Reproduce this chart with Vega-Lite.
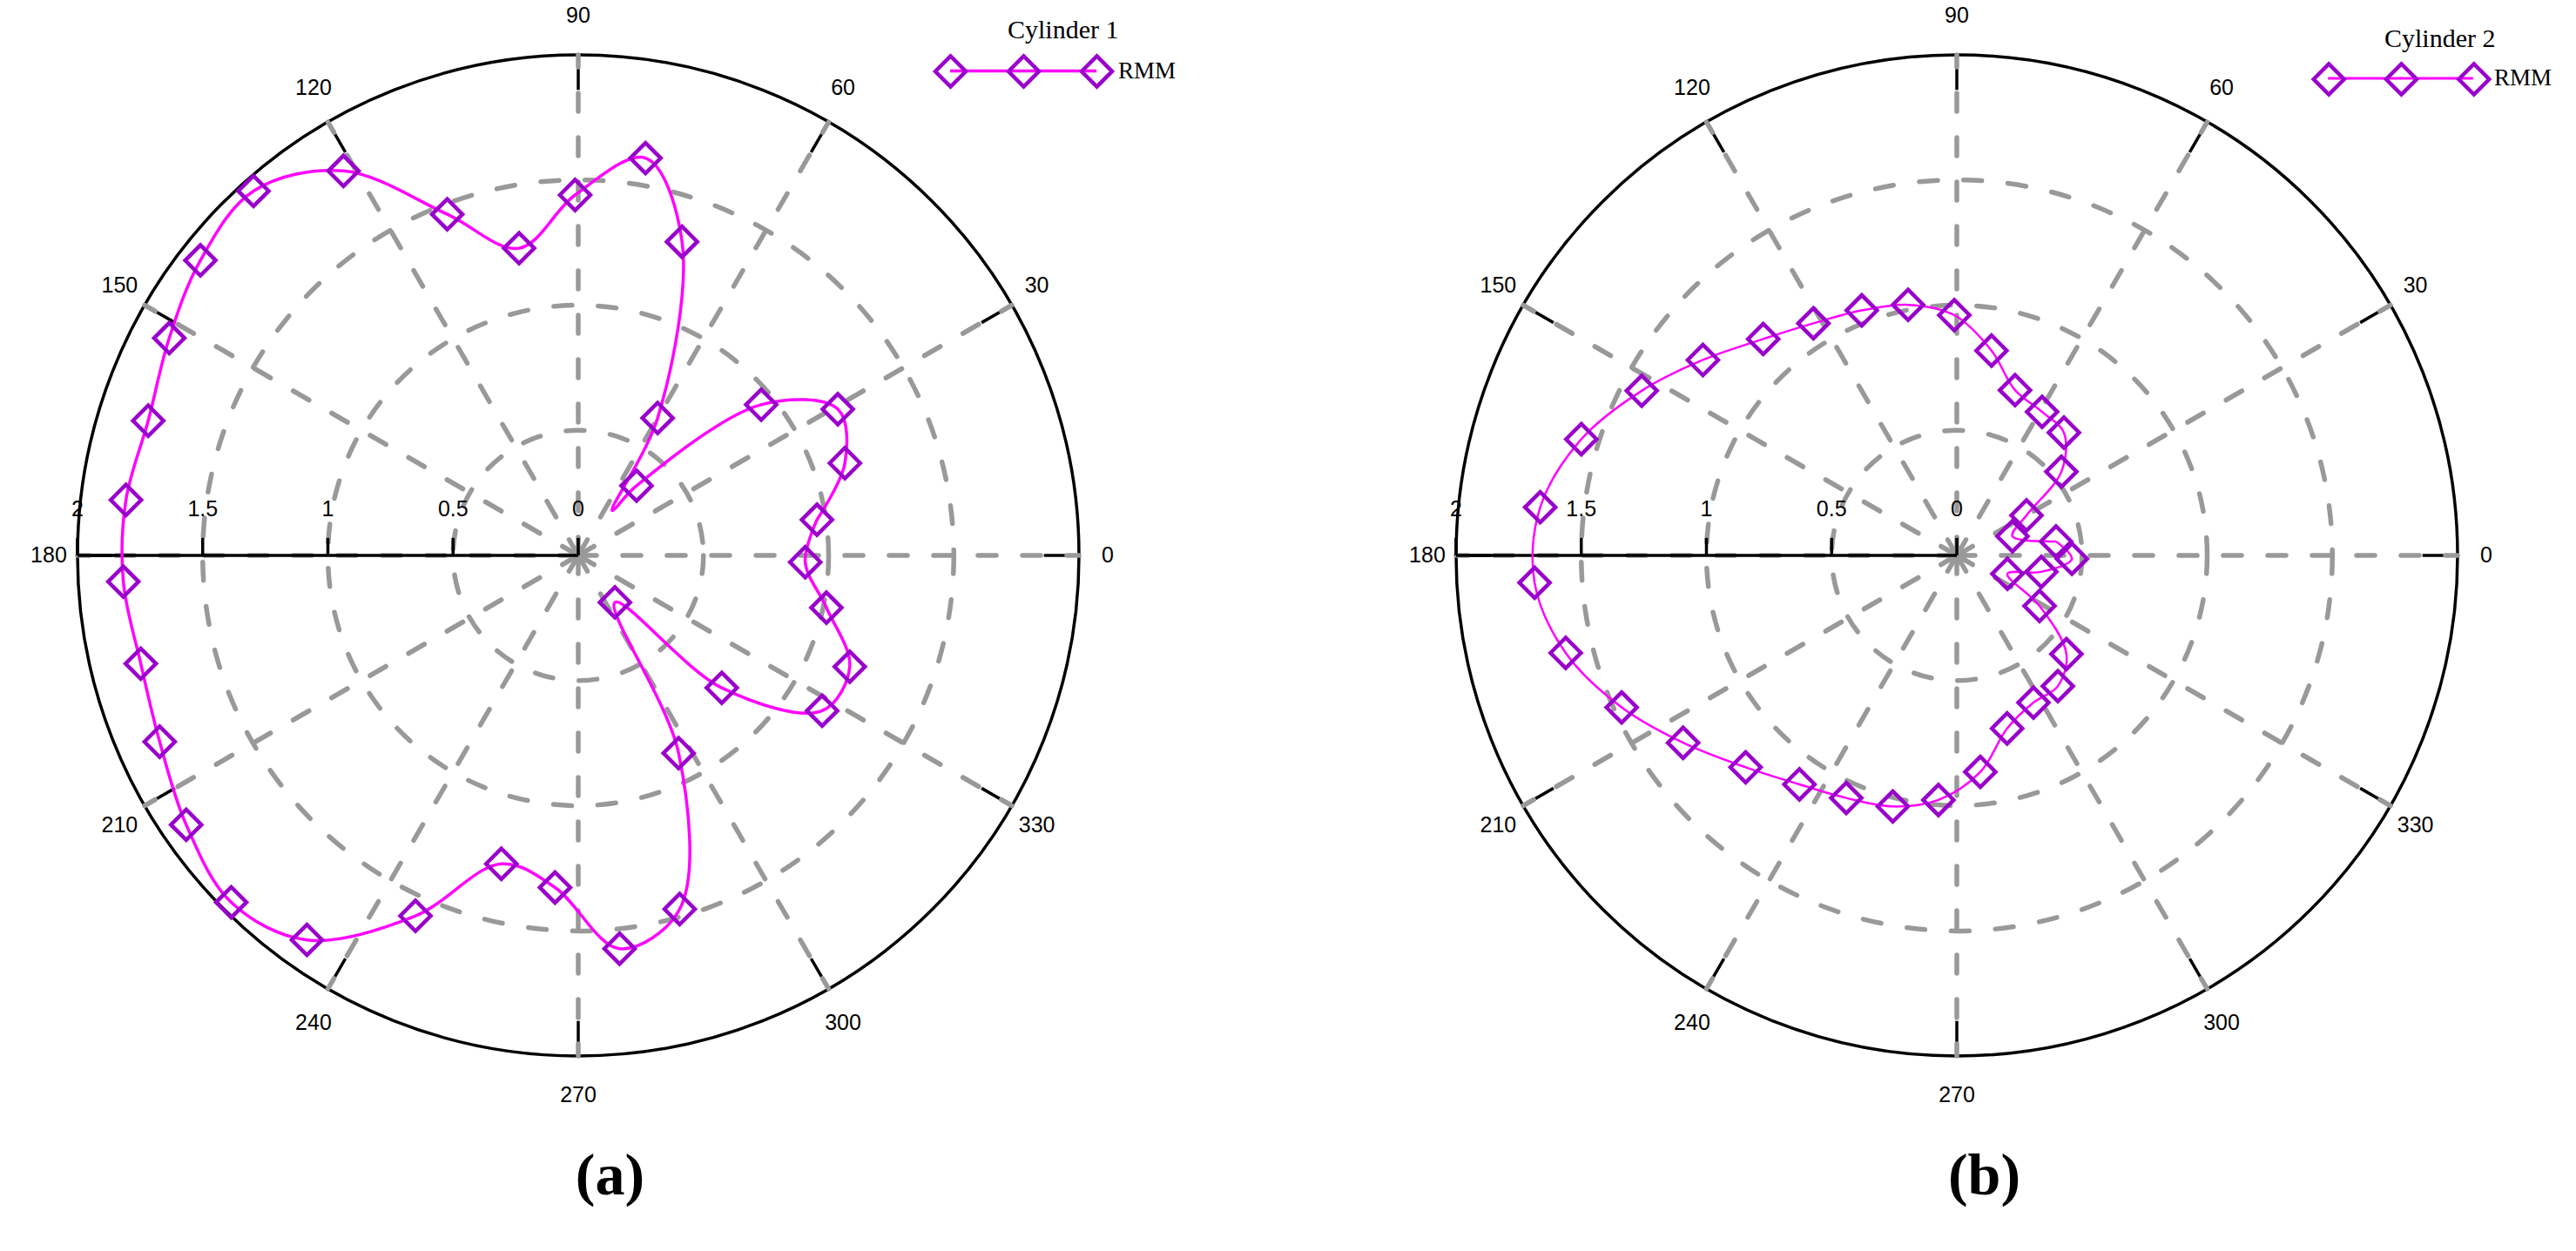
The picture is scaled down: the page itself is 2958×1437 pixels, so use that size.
{
  "$schema": "https://vega.github.io/schema/vega-lite/v6.json",
  "background": "white",
  "padding": 0,
  "autosize": {"type": "pad"},
  "spacing": 0,
  "bounds": "flush",
  "config": {"view": {"stroke": null}},
  "resolve": {
    "scale": {"color": "independent", "stroke": "independent", "size": "independent", "x": "independent", "y": "independent"},
    "legend": {"color": "independent", "stroke": "independent"}
  },
  "datasets": {
    "spokes": [{"a": 0}, {"a": 30}, {"a": 60}, {"a": 90}, {"a": 120}, {"a": 150}, {"a": 180}, {"a": 210}, {"a": 240}, {"a": 270}, {"a": 300}, {"a": 330}],
    "radial": [{"r": 0}, {"r": 0.5}, {"r": 1}, {"r": 1.5}, {"r": 2}],
    "rings": [{"r": 0.5}, {"r": 1}, {"r": 1.5}],
    "outer": [{"r": 2}],
    "a_mark": [
      {"a": 8.5, "r": 0.964, "s": "RMM"}, {"a": 19.1, "r": 1.127, "s": "RMM"}, {"a": 29.4, "r": 1.19, "s": "RMM"}, {"a": 39.5, "r": 0.947, "s": "RMM"},
      {"a": 50.1, "r": 0.363, "s": "RMM"}, {"a": 60, "r": 0.634, "s": "RMM"}, {"a": 71.7, "r": 1.32, "s": "RMM"}, {"a": 80.4, "r": 1.61, "s": "RMM"},
      {"a": 90.5, "r": 1.44, "s": "RMM"}, {"a": 100.9, "r": 1.25, "s": "RMM"}, {"a": 111, "r": 1.46, "s": "RMM"}, {"a": 121.4, "r": 1.8, "s": "RMM"},
      {"a": 131.7, "r": 1.95, "s": "RMM"}, {"a": 142, "r": 1.915, "s": "RMM"}, {"a": 152, "r": 1.85, "s": "RMM"}, {"a": 162.6, "r": 1.8, "s": "RMM"},
      {"a": 173, "r": 1.82, "s": "RMM"}, {"a": 183.3, "r": 1.82, "s": "RMM"}, {"a": 193.9, "r": 1.8, "s": "RMM"}, {"a": 204, "r": 1.83, "s": "RMM"},
      {"a": 214.5, "r": 1.9, "s": "RMM"}, {"a": 225, "r": 1.96, "s": "RMM"}, {"a": 234.8, "r": 1.88, "s": "RMM"}, {"a": 245.7, "r": 1.58, "s": "RMM"},
      {"a": 256, "r": 1.27, "s": "RMM"}, {"a": 266, "r": 1.33, "s": "RMM"}, {"a": 276, "r": 1.58, "s": "RMM"}, {"a": 286, "r": 1.47, "s": "RMM"},
      {"a": 296.9, "r": 0.886, "s": "RMM"}, {"a": 308, "r": 0.238, "s": "RMM"}, {"a": 317.3, "r": 0.78, "s": "RMM"}, {"a": 327.5, "r": 1.155, "s": "RMM"},
      {"a": 337.7, "r": 1.172, "s": "RMM"}, {"a": 348.1, "r": 1.013, "s": "RMM"}, {"a": 358.3, "r": 0.907, "s": "RMM"}
    ],
    "a_line": [
      {"a": 8.5, "r": 0.964, "s": "RMM"}, {"a": 19.1, "r": 1.127, "s": "RMM"}, {"a": 29.4, "r": 1.19, "s": "RMM"}, {"a": 39.5, "r": 0.947, "s": "RMM"},
      {"a": 50.1, "r": 0.363, "s": "RMM"}, {"a": 53, "r": 0.225, "s": "RMM"}, {"a": 60, "r": 0.634, "s": "RMM"}, {"a": 71.7, "r": 1.32, "s": "RMM"}, {"a": 80.4, "r": 1.61, "s": "RMM"},
      {"a": 90.5, "r": 1.44, "s": "RMM"}, {"a": 100.9, "r": 1.25, "s": "RMM"}, {"a": 111, "r": 1.46, "s": "RMM"}, {"a": 121.4, "r": 1.8, "s": "RMM"},
      {"a": 131.7, "r": 1.95, "s": "RMM"}, {"a": 142, "r": 1.915, "s": "RMM"}, {"a": 152, "r": 1.85, "s": "RMM"}, {"a": 162.6, "r": 1.8, "s": "RMM"},
      {"a": 173, "r": 1.82, "s": "RMM"}, {"a": 183.3, "r": 1.82, "s": "RMM"}, {"a": 193.9, "r": 1.8, "s": "RMM"}, {"a": 204, "r": 1.83, "s": "RMM"},
      {"a": 214.5, "r": 1.9, "s": "RMM"}, {"a": 225, "r": 1.96, "s": "RMM"}, {"a": 234.8, "r": 1.88, "s": "RMM"}, {"a": 245.7, "r": 1.58, "s": "RMM"},
      {"a": 256, "r": 1.27, "s": "RMM"}, {"a": 266, "r": 1.33, "s": "RMM"}, {"a": 276, "r": 1.58, "s": "RMM"}, {"a": 286, "r": 1.47, "s": "RMM"},
      {"a": 296.9, "r": 0.886, "s": "RMM"}, {"a": 308, "r": 0.238, "s": "RMM"}, {"a": 317.3, "r": 0.78, "s": "RMM"}, {"a": 327.5, "r": 1.155, "s": "RMM"},
      {"a": 337.7, "r": 1.172, "s": "RMM"}, {"a": 348.1, "r": 1.013, "s": "RMM"}, {"a": 358.3, "r": 0.907, "s": "RMM"}, {"a": 368.5, "r": 0.964, "s": "RMM"}
    ],
    "b_mark": [
      {"a": 8, "r": 0.4, "s": "RMM"}, {"a": 19, "r": 0.235, "s": "RMM"}, {"a": 29.9, "r": 0.321, "s": "RMM"}, {"a": 38.7, "r": 0.535, "s": "RMM"},
      {"a": 48.9, "r": 0.651, "s": "RMM"}, {"a": 59.3, "r": 0.667, "s": "RMM"}, {"a": 70.6, "r": 0.7, "s": "RMM"}, {"a": 80.4, "r": 0.83, "s": "RMM"},
      {"a": 90.6, "r": 0.96, "s": "RMM"}, {"a": 101, "r": 1.02, "s": "RMM"}, {"a": 111.2, "r": 1.05, "s": "RMM"}, {"a": 121.7, "r": 1.09, "s": "RMM"},
      {"a": 131.8, "r": 1.16, "s": "RMM"}, {"a": 142.4, "r": 1.28, "s": "RMM"}, {"a": 152.4, "r": 1.42, "s": "RMM"}, {"a": 162.8, "r": 1.57, "s": "RMM"},
      {"a": 173.4, "r": 1.675, "s": "RMM"}, {"a": 183.7, "r": 1.69, "s": "RMM"}, {"a": 194, "r": 1.61, "s": "RMM"}, {"a": 204.4, "r": 1.47, "s": "RMM"},
      {"a": 214.4, "r": 1.325, "s": "RMM"}, {"a": 225.1, "r": 1.195, "s": "RMM"}, {"a": 235.5, "r": 1.11, "s": "RMM"}, {"a": 245.5, "r": 1.065, "s": "RMM"},
      {"a": 255.7, "r": 1.035, "s": "RMM"}, {"a": 265.7, "r": 0.98, "s": "RMM"}, {"a": 276.2, "r": 0.87, "s": "RMM"}, {"a": 286.2, "r": 0.72, "s": "RMM"},
      {"a": 297.5, "r": 0.663, "s": "RMM"}, {"a": 307.7, "r": 0.66, "s": "RMM"}, {"a": 318, "r": 0.589, "s": "RMM"}, {"a": 328.6, "r": 0.387, "s": "RMM"},
      {"a": 340, "r": 0.215, "s": "RMM"}, {"a": 349, "r": 0.344, "s": "RMM"}, {"a": 358.3, "r": 0.46, "s": "RMM"}
    ],
    "b_line": [
      {"a": 8, "r": 0.4, "s": "RMM"}, {"a": 19, "r": 0.235, "s": "RMM"}, {"a": 29.9, "r": 0.321, "s": "RMM"}, {"a": 38.7, "r": 0.535, "s": "RMM"},
      {"a": 48.9, "r": 0.651, "s": "RMM"}, {"a": 59.3, "r": 0.667, "s": "RMM"}, {"a": 70.6, "r": 0.7, "s": "RMM"}, {"a": 80.4, "r": 0.83, "s": "RMM"},
      {"a": 90.6, "r": 0.96, "s": "RMM"}, {"a": 101, "r": 1.02, "s": "RMM"}, {"a": 111.2, "r": 1.05, "s": "RMM"}, {"a": 121.7, "r": 1.09, "s": "RMM"},
      {"a": 131.8, "r": 1.16, "s": "RMM"}, {"a": 142.4, "r": 1.28, "s": "RMM"}, {"a": 152.4, "r": 1.42, "s": "RMM"}, {"a": 162.8, "r": 1.57, "s": "RMM"},
      {"a": 173.4, "r": 1.675, "s": "RMM"}, {"a": 183.7, "r": 1.69, "s": "RMM"}, {"a": 194, "r": 1.61, "s": "RMM"}, {"a": 204.4, "r": 1.47, "s": "RMM"},
      {"a": 214.4, "r": 1.325, "s": "RMM"}, {"a": 225.1, "r": 1.195, "s": "RMM"}, {"a": 235.5, "r": 1.11, "s": "RMM"}, {"a": 245.5, "r": 1.065, "s": "RMM"},
      {"a": 255.7, "r": 1.035, "s": "RMM"}, {"a": 265.7, "r": 0.98, "s": "RMM"}, {"a": 276.2, "r": 0.87, "s": "RMM"}, {"a": 286.2, "r": 0.72, "s": "RMM"},
      {"a": 297.5, "r": 0.663, "s": "RMM"}, {"a": 307.7, "r": 0.66, "s": "RMM"}, {"a": 318, "r": 0.589, "s": "RMM"}, {"a": 328.6, "r": 0.387, "s": "RMM"},
      {"a": 340, "r": 0.215, "s": "RMM"}, {"a": 349, "r": 0.344, "s": "RMM"}, {"a": 358.3, "r": 0.46, "s": "RMM"}, {"a": 368, "r": 0.4, "s": "RMM"}
    ]
  },
  "hconcat": [
    {
      "width": 1479,
      "height": 1315,
      "title": {"text": "(a)", "orient": "bottom", "anchor": "middle", "offset": 3, "dx": -39, "font": "Liberation Serif", "fontSize": 68, "fontWeight": "bold", "color": "#000000"},
      "encoding": {
        "x": {"field": "x", "type": "quantitative", "scale": {"domain": [-2.30957, 2.83478], "nice": false, "zero": false}, "axis": null},
        "y": {"field": "y", "type": "quantitative", "scale": {"domain": [-2.35478, 2.21913], "nice": false, "zero": false}, "axis": null}
      },
      "layer": [
        {
          "data": {"name": "rings"},
          "transform": [{"calculate": "0", "as": "x"}, {"calculate": "0", "as": "y"}],
          "mark": {"type": "point", "shape": "circle", "filled": false, "stroke": "#999999", "strokeWidth": 5.5, "strokeDash": [21, 30], "strokeCap": "round", "opacity": 1},
          "encoding": {
            "size": {"field": "r", "type": "quantitative", "scale": {"type": "pow", "exponent": 2, "domain": [0, 2], "range": [0, 1322500]}, "legend": null}
          }
        },
        {
          "data": {"name": "outer"},
          "transform": [{"calculate": "0", "as": "x"}, {"calculate": "0", "as": "y"}],
          "mark": {"type": "point", "shape": "circle", "filled": false, "stroke": "#000000", "strokeWidth": 3.5, "opacity": 1},
          "encoding": {
            "size": {"field": "r", "type": "quantitative"}
          }
        },
        {
          "data": {"name": "spokes"},
          "transform": [
            {"calculate": "1.86*cos(datum.a*PI/180)", "as": "x"},
            {"calculate": "1.86*sin(datum.a*PI/180)", "as": "y"},
            {"calculate": "2*cos(datum.a*PI/180)", "as": "ex"},
            {"calculate": "2*sin(datum.a*PI/180)", "as": "ey"}
          ],
          "mark": {"type": "rule", "stroke": "#000000", "strokeWidth": 3.5},
          "encoding": {
            "x2": {"field": "ex"},
            "y2": {"field": "ey"}
          }
        },
        {
          "data": {"name": "spokes"},
          "transform": [
            {"calculate": "0", "as": "x"},
            {"calculate": "0", "as": "y"},
            {"calculate": "2*cos(datum.a*PI/180)", "as": "ex"},
            {"calculate": "2*sin(datum.a*PI/180)", "as": "ey"}
          ],
          "mark": {"type": "rule", "stroke": "#999999", "strokeWidth": 5.5, "strokeDash": [21, 30], "strokeCap": "round"},
          "encoding": {
            "x2": {"field": "ex"},
            "y2": {"field": "ey"}
          }
        },
        {
          "data": {"name": "outer"},
          "transform": [{"calculate": "-datum.r", "as": "x"}, {"calculate": "0", "as": "y"}, {"calculate": "0", "as": "ex"}],
          "mark": {"type": "rule", "stroke": "#000000", "strokeWidth": 3.5},
          "encoding": {
            "x2": {"field": "ex"}
          }
        },
        {
          "data": {"name": "radial"},
          "transform": [{"calculate": "-datum.r", "as": "x"}, {"calculate": "0", "as": "y"}, {"calculate": "0.07", "as": "ey"}],
          "mark": {"type": "rule", "stroke": "#000000", "strokeWidth": 3.5},
          "encoding": {
            "y2": {"field": "ey"}
          }
        },
        {
          "data": {"name": "radial"},
          "transform": [{"calculate": "-datum.r", "as": "x"}, {"calculate": "0", "as": "y"}],
          "mark": {"type": "text", "font": "Liberation Sans", "fontSize": 25, "color": "#000000", "align": "center", "baseline": "middle", "dy": -53},
          "encoding": {
            "text": {"field": "r", "type": "quantitative"}
          }
        },
        {
          "data": {"name": "spokes"},
          "transform": [
            {"calculate": "2.115*cos(datum.a*PI/180)", "as": "x"},
            {"calculate": "2.155*sin(datum.a*PI/180)", "as": "y"}
          ],
          "mark": {"type": "text", "font": "Liberation Sans", "fontSize": 25, "color": "#000000", "align": "center", "baseline": "middle"},
          "encoding": {
            "text": {"field": "a", "type": "quantitative"}
          }
        },
        {
          "data": {"name": "a_line"},
          "transform": [
            {"calculate": "datum.r*cos(datum.a*PI/180)", "as": "x"},
            {"calculate": "datum.r*sin(datum.a*PI/180)", "as": "y"}
          ],
          "mark": {"type": "line", "interpolate": "catmull-rom", "strokeWidth": 3.5},
          "encoding": {
            "order": {"field": "a", "type": "quantitative"},
            "color": {
              "field": "s", "type": "nominal", "scale": {"range": ["#FF00FF"]},
              "legend": {"title": "Cylinder 1", "orient": "none", "legendX": 1157, "legendY": 20, "padding": 0,
                "symbolType": "M-4.886,0L4.714,0", "symbolSize": 1225, "symbolStrokeWidth": 3.5,
                "titleFont": "Liberation Serif", "titleFontSize": 30, "titleFontWeight": "normal", "titleColor": "#000000", "titlePadding": 12,
                "labelFont": "Liberation Serif", "labelFontSize": 27, "labelColor": "#000000", "labelOffset": 88}
            }
          }
        },
        {
          "data": {"name": "a_mark"},
          "transform": [
            {"calculate": "datum.r*cos(datum.a*PI/180)", "as": "x"},
            {"calculate": "datum.r*sin(datum.a*PI/180)", "as": "y"}
          ],
          "mark": {"type": "point", "shape": "diamond", "filled": false, "strokeWidth": 4.5, "size": 1225, "opacity": 1},
          "encoding": {
            "stroke": {
              "field": "s", "type": "nominal", "scale": {"range": ["#9900CC"]},
              "legend": {"title": null, "orient": "none", "legendX": 1071.5, "legendY": 62, "padding": 0,
                "symbolType": "M-1,0L0,-1L1,0L0,1Z M3.8,0L4.8,-1L5.8,0L4.8,1Z M8.6,0L9.6,-1L10.6,0L9.6,1Z", "symbolSize": 1225, "symbolStrokeWidth": 4.5, "symbolFillColor": "transparent",
                "labelExpr": "''", "labelFontSize": 27}
            }
          }
        }
      ]
    },
    {
      "width": 1479,
      "height": 1315,
      "title": {"text": "(b)", "orient": "bottom", "anchor": "middle", "offset": 3, "dx": 60, "font": "Liberation Serif", "fontSize": 68, "fontWeight": "bold", "color": "#000000"},
      "encoding": {
        "x": {"field": "x", "type": "quantitative", "scale": {"domain": [-2.6713, 2.47304], "nice": false, "zero": false}, "axis": null},
        "y": {"field": "y", "type": "quantitative", "scale": {"domain": [-2.35478, 2.21913], "nice": false, "zero": false}, "axis": null}
      },
      "layer": [
        {
          "data": {"name": "rings"},
          "transform": [{"calculate": "0", "as": "x"}, {"calculate": "0", "as": "y"}],
          "mark": {"type": "point", "shape": "circle", "filled": false, "stroke": "#999999", "strokeWidth": 5.5, "strokeDash": [21, 30], "strokeCap": "round", "opacity": 1},
          "encoding": {
            "size": {"field": "r", "type": "quantitative", "scale": {"type": "pow", "exponent": 2, "domain": [0, 2], "range": [0, 1322500]}, "legend": null}
          }
        },
        {
          "data": {"name": "outer"},
          "transform": [{"calculate": "0", "as": "x"}, {"calculate": "0", "as": "y"}],
          "mark": {"type": "point", "shape": "circle", "filled": false, "stroke": "#000000", "strokeWidth": 3.5, "opacity": 1},
          "encoding": {
            "size": {"field": "r", "type": "quantitative"}
          }
        },
        {
          "data": {"name": "spokes"},
          "transform": [
            {"calculate": "1.86*cos(datum.a*PI/180)", "as": "x"},
            {"calculate": "1.86*sin(datum.a*PI/180)", "as": "y"},
            {"calculate": "2*cos(datum.a*PI/180)", "as": "ex"},
            {"calculate": "2*sin(datum.a*PI/180)", "as": "ey"}
          ],
          "mark": {"type": "rule", "stroke": "#000000", "strokeWidth": 3.5},
          "encoding": {
            "x2": {"field": "ex"},
            "y2": {"field": "ey"}
          }
        },
        {
          "data": {"name": "spokes"},
          "transform": [
            {"calculate": "0", "as": "x"},
            {"calculate": "0", "as": "y"},
            {"calculate": "2*cos(datum.a*PI/180)", "as": "ex"},
            {"calculate": "2*sin(datum.a*PI/180)", "as": "ey"}
          ],
          "mark": {"type": "rule", "stroke": "#999999", "strokeWidth": 5.5, "strokeDash": [21, 30], "strokeCap": "round"},
          "encoding": {
            "x2": {"field": "ex"},
            "y2": {"field": "ey"}
          }
        },
        {
          "data": {"name": "outer"},
          "transform": [{"calculate": "-datum.r", "as": "x"}, {"calculate": "0", "as": "y"}, {"calculate": "0", "as": "ex"}],
          "mark": {"type": "rule", "stroke": "#000000", "strokeWidth": 3.5},
          "encoding": {
            "x2": {"field": "ex"}
          }
        },
        {
          "data": {"name": "radial"},
          "transform": [{"calculate": "-datum.r", "as": "x"}, {"calculate": "0", "as": "y"}, {"calculate": "0.07", "as": "ey"}],
          "mark": {"type": "rule", "stroke": "#000000", "strokeWidth": 3.5},
          "encoding": {
            "y2": {"field": "ey"}
          }
        },
        {
          "data": {"name": "radial"},
          "transform": [{"calculate": "-datum.r", "as": "x"}, {"calculate": "0", "as": "y"}],
          "mark": {"type": "text", "font": "Liberation Sans", "fontSize": 25, "color": "#000000", "align": "center", "baseline": "middle", "dy": -53},
          "encoding": {
            "text": {"field": "r", "type": "quantitative"}
          }
        },
        {
          "data": {"name": "spokes"},
          "transform": [
            {"calculate": "2.115*cos(datum.a*PI/180)", "as": "x"},
            {"calculate": "2.155*sin(datum.a*PI/180)", "as": "y"}
          ],
          "mark": {"type": "text", "font": "Liberation Sans", "fontSize": 25, "color": "#000000", "align": "center", "baseline": "middle"},
          "encoding": {
            "text": {"field": "a", "type": "quantitative"}
          }
        },
        {
          "data": {"name": "b_line"},
          "transform": [
            {"calculate": "datum.r*cos(datum.a*PI/180)", "as": "x"},
            {"calculate": "datum.r*sin(datum.a*PI/180)", "as": "y"}
          ],
          "mark": {"type": "line", "interpolate": "catmull-rom", "strokeWidth": 2.5},
          "encoding": {
            "order": {"field": "a", "type": "quantitative"},
            "color": {
              "field": "s", "type": "nominal", "scale": {"range": ["#FF00FF"]},
              "legend": {"title": "Cylinder 2", "orient": "none", "legendX": 1259, "legendY": 30, "padding": 0,
                "symbolType": "M-4.79,0L4.73,0", "symbolSize": 1225, "symbolStrokeWidth": 3,
                "titleFont": "Liberation Serif", "titleFontSize": 30, "titleFontWeight": "normal", "titleColor": "#000000", "titlePadding": 11,
                "labelFont": "Liberation Serif", "labelFontSize": 27, "labelColor": "#000000", "labelOffset": 88}
            }
          }
        },
        {
          "data": {"name": "b_mark"},
          "transform": [
            {"calculate": "datum.r*cos(datum.a*PI/180)", "as": "x"},
            {"calculate": "datum.r*sin(datum.a*PI/180)", "as": "y"}
          ],
          "mark": {"type": "point", "shape": "diamond", "filled": false, "strokeWidth": 4.5, "size": 1225, "opacity": 1},
          "encoding": {
            "stroke": {
              "field": "s", "type": "nominal", "scale": {"range": ["#9900CC"]},
              "legend": {"title": null, "orient": "none", "legendX": 1175.2, "legendY": 71, "padding": 0,
                "symbolType": "M-1,0L0,-1L1,0L0,1Z M3.76,0L4.76,-1L5.76,0L4.76,1Z M8.52,0L9.52,-1L10.52,0L9.52,1Z", "symbolSize": 1225, "symbolStrokeWidth": 4.5, "symbolFillColor": "transparent",
                "labelExpr": "''", "labelFontSize": 27}
            }
          }
        }
      ]
    }
  ]
}
